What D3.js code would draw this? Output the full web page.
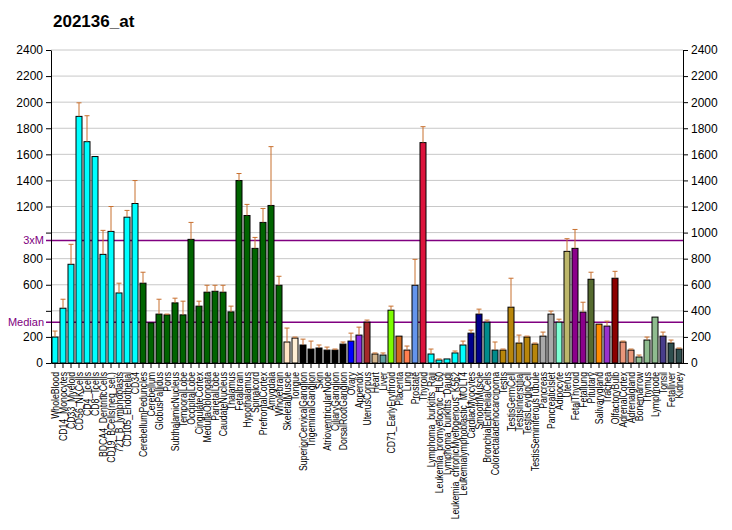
<!doctype html>
<html lang=en>
<head>
  <meta charset=utf-8>
  <title>202136_at</title>
  <style>
    html, body { margin: 0; padding: 0; background: #fff; }
    body { font-family: Arial, "Liberation Sans", sans-serif; }
    .grid line { stroke: #c8c8c8; }
    .axis path, .axis line { stroke: #000; }
    .axis text { font-size: 12px; fill: #000; }
    .axis text.xlab { font-size: 10px; }
  </style>
  <script src="https://cdn.jsdelivr.net/npm/d3@7"></script>
</head>
<body>
<svg id=chart width=732 height=530></svg>
<script>
  const categories = [
    'WholeBlood', 'CD14_Monocytes', 'CD33_Myeloid', 'CD56_NKCells', 'CD4_Tcells',
    'CD8_Tcells', 'BDCA4_DentriticCells', 'CD19_BCells(neg_sel.)', '721_B_lymphoblasts',
    'CD105_Endothelial', 'CD34', 'CerebellumPeduncles', 'Cerebellum', 'GlobusPallidus',
    'Pons', 'SubthalamicNucleus', 'TemporalLobe', 'OccipitalLobe', 'CingulateCortex',
    'MedullaOblongata', 'ParietalLobe', 'CaudateNucleus', 'Thalamus', 'Fetalbrain',
    'Hypothalamus', 'Spinalcord', 'PrefrontalCortex', 'Amygdala', 'Wholebrain',
    'SkeletalMuscle', 'Tongue', 'SuperiorCervicalGanglion', 'TrigeminalGanglion', 'Skin',
    'AtrioventricularNode', 'CiliaryGanglion', 'DorsalRootGanglion', 'Ovary', 'Appendix',
    'UterusCorpus', 'Heart', 'Liver', 'CD71_EarlyErythroid', 'Placenta', 'Lung',
    'Prostate', 'Thyroid', 'Lymphoma_burkitts_Raji', 'Leukemia_promyelocytic_HL60',
    'Lymphoma_burkitts_Daudi', 'Leukemia_chronicMyelogenous_K562',
    'Leukemialymphoblastic_MOLT4', 'CardiacMyocytes', 'SmoothMuscle',
    'BronchialEpithelialCells', 'Colorectaladenocarcinoma', 'Testis', 'TestisGermCell',
    'TestisInterstitial', 'TestisLeydigCell', 'TestisSeminiferousTubule', 'Pancreas',
    'PancreaticIslet', 'Adipocyte', 'Uterus', 'FetalThyroid', 'Fetallung', 'Pituitary',
    'Salivarygland', 'Trachea', 'OlfactoryBulb', 'AdrenalCortex', 'Adrenalgland',
    'Bonemarrow', 'Thymus', 'Lymphnode', 'Tonsil', 'Fetalliver', 'Kidney'
  ]

  const values = [
    199, 420, 757, 1891, 1697, 1583, 833, 1009, 537, 1118, 1223,
    612, 308, 375, 369, 461, 369, 948, 436, 543, 550, 543, 392, 1399,
    1131, 879, 1078, 1208, 596,
    161, 191, 138, 107, 115, 99, 99, 145, 168, 214, 313, 69, 61, 405, 206,
    99, 596, 1690, 69, 23, 31, 77, 138, 229, 375, 313, 99, 99, 428, 153,
    199, 145, 206, 375, 313, 856, 879, 390, 642, 298, 283, 650, 161, 99,
    46, 176, 352, 206, 153, 107
  ]

  const errTops = [
    245, 489, 910, 1995, 1896, null, 1017, 1200, 612, 1170, 1399,
    696, null, 489, 375, 497, 474, 1078, 474, 596, 596, 596, 436, 1453,
    1216, 963, 1185, 1659, 665,
    268, 199, 183, 168, 138, 122, 107, 161, 229, 275, 329, 77, 77, 436, null,
    130, 795, 1812, 107, 31, null, 92, 168, 252, 413, 329, 161, 107, 650, 214,
    206, 153, 237, 398, 336, 953, 1024, 466, 696, null, 321, 703, 168, 107,
    61, 199, null, 237, 176, 115
  ]

  const colors = [
    ...Array(11).fill('#00ffff'),
    ...Array(18).fill('#006400'),
    '#ffe4c4', '#ffefd5',
    ...Array(6).fill('#000000'),
    '#0000ff', '#8a2be2', '#a52a2a', '#d2b48c', '#5f9ea0', '#7cfc00', '#d2691e',
    '#ff7f50', '#6495ed', '#dc143c',
    ...Array(5).fill('#00ffff'),
    '#00008b', '#00008b', '#008b8b', '#008b8b',
    ...Array(5).fill('#b8860b'),
    '#a9a9a9', '#a9a9a9', '#7fffd4', '#bdb76b', '#8b008b', '#8b008b', '#556b2f',
    '#ff8c00', '#9932cc', '#8b0000', '#e9967a', '#e9967a',
    '#8fbc8f', '#8fbc8f', '#8fbc8f', '#483d8b', '#2f4f4f', '#2f4f4f'
  ]

  const yTicks = [0, 200, 400, 600, 800, 1000, 1200, 1400, 1600, 1800, 2000, 2200, 2400]
  const median = 313
  const threeXM = 940

  const marginLeft = 51
  const marginRight = 49
  const marginTop = 50
  const plotBottom = 363
  const width = 732

  const svg = d3.select('#chart')

  const x = d3.scaleBand()
    .domain(categories)
    .range([marginLeft, width - marginRight])
    .paddingInner(0.25)
    .paddingOuter(0.125)

  const y = d3.scaleLinear()
    .domain([0, 2400])
    .range([plotBottom, marginTop])

  svg.append('text')
    .attr('x', 53)
    .attr('y', 27)
    .attr('font-size', 17)
    .attr('font-weight', 'bold')
    .text('202136_at')

  // grid
  svg.append('g')
    .attr('class', 'grid')
    .selectAll('line')
    .data(yTicks.filter(d => d > 0))
    .join('line')
      .attr('x1', marginLeft)
      .attr('x2', width - marginRight)
      .attr('y1', d => y(d))
      .attr('y2', d => y(d))

  // reference lines
  for (const v of [threeXM, median]) {
    svg.append('line')
      .attr('x1', marginLeft - 5)
      .attr('x2', width - marginRight)
      .attr('y1', y(v))
      .attr('y2', y(v))
      .attr('stroke', '#800080')
      .attr('stroke-width', 1.5)
  }
  svg.append('text')
    .attr('x', marginLeft - 7)
    .attr('y', y(threeXM) + 4)
    .attr('text-anchor', 'end')
    .attr('font-size', 11)
    .attr('fill', '#800080')
    .text('3xM')
  svg.append('text')
    .attr('x', marginLeft - 7)
    .attr('y', y(median) + 4)
    .attr('text-anchor', 'end')
    .attr('font-size', 11)
    .attr('fill', '#800080')
    .text('Median')

  // bars
  const bars = categories.map((c, i) => ({ c, v: values[i], e: errTops[i], color: colors[i] }))

  svg.append('g')
    .selectAll('rect')
    .data(bars)
    .join('rect')
      .attr('x', d => x(d.c))
      .attr('y', d => y(d.v))
      .attr('width', x.bandwidth())
      .attr('height', d => y(0) - y(d.v))
      .attr('fill', d => d.color)
      .attr('stroke', '#000')
      .attr('stroke-width', 1)

  // error bars
  const eg = svg.append('g')
    .attr('stroke', '#c8702f')
    .attr('stroke-width', 1)
  const withErr = bars.filter(d => d.e != null)
  eg.selectAll('line.v')
    .data(withErr)
    .join('line')
      .attr('class', 'v')
      .attr('x1', d => x(d.c) + x.bandwidth() / 2)
      .attr('x2', d => x(d.c) + x.bandwidth() / 2)
      .attr('y1', d => y(d.v))
      .attr('y2', d => y(d.e))
  eg.selectAll('line.cap')
    .data(withErr)
    .join('line')
      .attr('class', 'cap')
      .attr('x1', d => x(d.c) + x.bandwidth() / 2 - 2.5)
      .attr('x2', d => x(d.c) + x.bandwidth() / 2 + 2.5)
      .attr('y1', d => y(d.e))
      .attr('y2', d => y(d.e))

  // axes
  const fmt = d3.format('d')
  const leftAxis = svg.append('g')
    .attr('class', 'axis')
    .attr('transform', `translate(${marginLeft},0)`)
    .call(d3.axisLeft(y).tickValues(yTicks).tickFormat(fmt).tickSize(5).tickSizeOuter(0))
  leftAxis.selectAll('.tick')
    .filter(d => d === 1000 || d === 400)
    .select('text').remove()

  svg.append('g')
    .attr('class', 'axis')
    .attr('transform', `translate(${width - marginRight},0)`)
    .call(d3.axisRight(y).tickValues(yTicks).tickFormat(fmt).tickSize(5).tickSizeOuter(0))

  // labels squeezed along their length, like the narrow bitmap font of the original
  const squeeze = 0.87
  const xAxis = svg.append('g')
    .attr('class', 'axis')
    .attr('transform', `translate(0,${plotBottom})`)
    .call(d3.axisBottom(x).tickSize(5).tickSizeOuter(0))
  xAxis.selectAll('.tick text')
    .attr('class', 'xlab')
    .attr('transform', `rotate(-90) scale(${squeeze},1)`)
    .attr('text-anchor', 'end')
    .attr('x', -9 / squeeze)
    .attr('y', 0)
    .attr('dy', '0.35em')
</script>
</body>
</html>
